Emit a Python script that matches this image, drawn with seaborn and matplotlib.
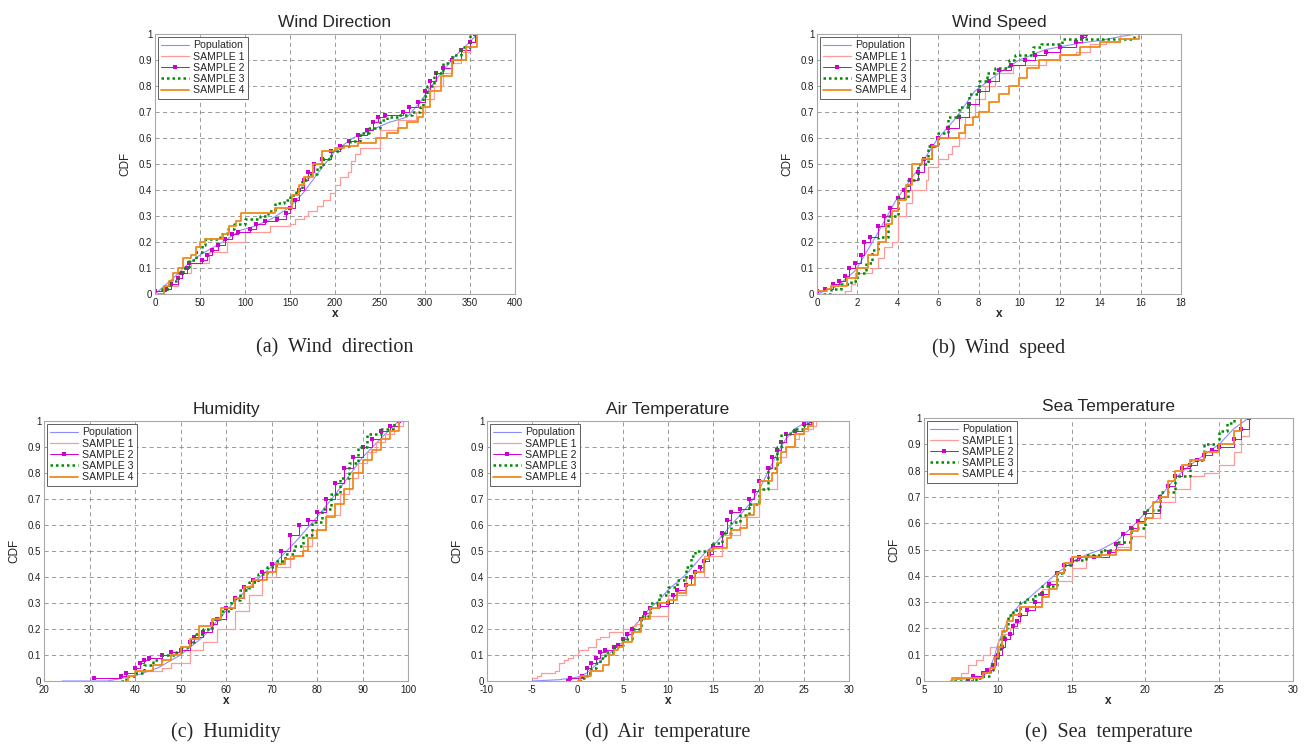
import matplotlib
matplotlib.use("Agg")
import matplotlib.pyplot as plt
import seaborn as sns
import pandas as pd

# ---- data: (x, cdf) knots ----
# (a) wind direction
wd_pop = [(0, 0), (10, 0.03), (20, 0.06), (35, 0.11), (50, 0.15), (75, 0.20), (95, 0.245), (110, 0.26),
          (130, 0.29), (150, 0.335), (165, 0.39), (180, 0.46), (200, 0.55), (220, 0.60), (240, 0.63),
          (260, 0.66), (280, 0.68), (295, 0.74), (305, 0.79), (320, 0.86), (335, 0.92), (350, 0.97), (358, 1.0)]
wd_s1 = [(0, 0), (10, 0.03), (25, 0.08), (40, 0.12), (60, 0.16), (80, 0.2), (100, 0.24), (128, 0.26),
         (150, 0.27), (156, 0.29), (165, 0.30), (170, 0.32), (180, 0.34), (187, 0.36), (194, 0.39), (200, 0.42),
         (206, 0.45), (214, 0.47), (218, 0.51), (222, 0.54), (228, 0.56), (250, 0.63), (270, 0.67), (290, 0.70),
         (300, 0.75), (310, 0.80), (320, 0.85), (330, 0.89), (340, 0.93), (350, 0.97), (357, 1.0)]
wd_s2 = [(0, 0.01), (12, 0.02), (18, 0.04), (25, 0.06), (30, 0.08), (35, 0.10), (38, 0.12), (52, 0.13),
         (58, 0.15), (63, 0.17), (70, 0.19), (78, 0.21), (85, 0.23), (92, 0.24), (105, 0.25), (112, 0.27),
         (122, 0.28), (135, 0.29), (145, 0.31), (150, 0.33), (155, 0.36), (160, 0.40), (165, 0.44), (170, 0.47),
         (177, 0.50), (185, 0.52), (195, 0.55), (205, 0.57), (215, 0.59), (225, 0.61), (235, 0.63), (242, 0.66),
         (248, 0.68), (255, 0.69), (275, 0.70), (282, 0.72), (292, 0.74), (300, 0.78), (305, 0.82), (312, 0.85),
         (320, 0.87), (330, 0.90), (340, 0.94), (350, 0.97), (356, 1.0)]
wd_s3 = [(5, 0), (8, 0.02), (15, 0.05), (25, 0.08), (31, 0.10), (38, 0.13), (45, 0.16), (52, 0.19), (55, 0.21),
         (72, 0.23), (80, 0.25), (88, 0.27), (100, 0.29), (117, 0.30), (125, 0.32), (133, 0.35), (143, 0.36),
         (150, 0.38), (157, 0.40), (163, 0.44), (170, 0.46), (180, 0.49), (187, 0.52), (195, 0.55), (205, 0.57),
         (217, 0.59), (228, 0.62), (238, 0.64), (250, 0.67), (258, 0.68), (270, 0.69), (285, 0.70), (294, 0.72),
         (298, 0.76), (302, 0.80), (310, 0.85), (320, 0.89), (330, 0.92), (340, 0.95), (350, 1.0)]
wd_s4 = [(3, 0), (10, 0.03), (15, 0.05), (20, 0.08), (25, 0.10), (31, 0.14), (40, 0.15), (45, 0.18), (50, 0.20),
         (55, 0.21), (70, 0.21), (75, 0.23), (82, 0.26), (90, 0.28), (95, 0.31), (130, 0.31), (133, 0.33),
         (148, 0.33), (152, 0.38), (160, 0.42), (165, 0.45), (175, 0.50), (185, 0.55), (200, 0.56), (210, 0.57),
         (225, 0.58), (240, 0.58), (245, 0.60), (258, 0.62), (270, 0.64), (280, 0.66), (292, 0.68), (298, 0.72),
         (305, 0.78), (318, 0.84), (330, 0.90), (345, 0.95), (358, 1.0)]

# (b) wind speed
ws_pop = [(0, 0), (1, 0.03), (1.9, 0.09), (2.9, 0.22), (3.9, 0.36), (4.9, 0.47), (5.9, 0.59), (6.9, 0.68),
          (7.8, 0.78), (9.0, 0.85), (10, 0.90), (11.3, 0.94), (13, 0.965), (14, 0.975), (15, 0.99), (15.8, 1.0)]
ws_s1 = [(0, 0), (1.4, 0.01), (1.7, 0.04), (1.9, 0.08), (2.7, 0.10), (3.0, 0.14), (3.3, 0.18), (3.7, 0.20),
         (4.0, 0.30), (4.4, 0.35), (4.7, 0.40), (5.4, 0.44), (5.5, 0.49), (6.0, 0.52), (6.5, 0.54), (6.7, 0.57),
         (7.0, 0.60), (7.3, 0.68), (7.8, 0.75), (8.3, 0.80), (8.8, 0.85), (9.7, 0.88), (11.3, 0.90), (12.0, 0.92),
         (12.8, 0.93), (13.5, 0.96), (14.3, 0.97), (15.0, 1.0)]
ws_s2 = [(0, 0.01), (0.4, 0.02), (0.8, 0.04), (1.1, 0.05), (1.4, 0.07), (1.6, 0.10), (1.9, 0.12), (2.2, 0.15),
         (2.3, 0.20), (2.6, 0.22), (3.0, 0.26), (3.3, 0.30), (3.6, 0.33), (4.0, 0.37), (4.3, 0.40), (4.6, 0.44),
         (5.0, 0.47), (5.3, 0.52), (5.7, 0.57), (6.0, 0.60), (6.5, 0.64), (7.0, 0.68), (7.5, 0.73), (8.0, 0.78),
         (8.5, 0.82), (9.0, 0.86), (9.6, 0.88), (10.3, 0.90), (10.8, 0.92), (11.3, 0.93), (12.0, 0.95), (12.8, 0.97),
         (13.1, 0.99), (13.3, 1.0)]
ws_s3 = [(0.3, 0), (0.7, 0.02), (1.2, 0.04), (1.7, 0.05), (2.0, 0.08), (2.4, 0.12), (2.7, 0.17), (3.0, 0.22),
         (3.5, 0.30), (4.0, 0.37), (4.5, 0.44), (5.0, 0.50), (5.5, 0.57), (6.0, 0.62), (6.5, 0.68), (7.0, 0.72),
         (7.5, 0.77), (8.0, 0.82), (8.4, 0.85), (8.8, 0.87), (9.5, 0.90), (9.8, 0.92), (10.5, 0.92), (10.7, 0.95),
         (11.1, 0.96), (12.1, 0.98), (15.0, 0.98), (15.7, 1.0)]
ws_s4 = [(0, 0.01), (0.5, 0.02), (0.7, 0.03), (1.2, 0.03), (1.5, 0.06), (2.0, 0.10), (2.5, 0.15), (3.0, 0.20),
         (3.4, 0.27), (3.7, 0.32), (4.0, 0.36), (4.4, 0.42), (4.7, 0.50), (5.2, 0.52), (5.7, 0.57), (6.0, 0.60),
         (6.8, 0.60), (7.0, 0.62), (7.3, 0.65), (7.7, 0.68), (8.0, 0.70), (8.5, 0.74), (9.0, 0.77), (9.5, 0.80),
         (10.0, 0.83), (10.4, 0.87), (11.0, 0.90), (12.0, 0.92), (13.0, 0.95), (14.0, 0.97), (15.0, 0.98), (15.9, 1.0)]

# (c) humidity
hu_pop = [(24, 0), (34, 0.0), (37, 0.01), (40, 0.02), (45, 0.05), (50, 0.10), (55, 0.17), (60, 0.27), (65, 0.36),
          (70, 0.44), (75, 0.53), (80, 0.63), (85, 0.74), (90, 0.86), (95, 0.95), (98, 1.0)]
hu_s1 = [(34, 0.01), (37, 0.02), (40, 0.04), (46, 0.05), (48, 0.07), (52, 0.12), (55, 0.15), (58, 0.20),
         (62, 0.27), (65, 0.33), (68, 0.40), (71, 0.44), (74, 0.48), (77, 0.52), (79, 0.58), (82, 0.64),
         (85, 0.72), (87, 0.78), (89, 0.84), (91, 0.88), (93, 0.92), (95, 0.95), (97, 0.98), (99, 1.0)]
hu_s2 = [(31, 0.01), (37, 0.02), (38, 0.03), (40, 0.05), (41, 0.07), (42, 0.08), (43, 0.09), (46, 0.10),
         (48, 0.11), (50, 0.12), (52, 0.15), (53, 0.17), (55, 0.19), (57, 0.22), (58, 0.24), (60, 0.28),
         (62, 0.32), (64, 0.36), (66, 0.39), (68, 0.42), (70, 0.45), (72, 0.50), (74, 0.56), (76, 0.60),
         (78, 0.62), (80, 0.65), (82, 0.70), (84, 0.76), (86, 0.82), (88, 0.86), (90, 0.90), (92, 0.93),
         (94, 0.96), (96, 0.98), (98, 1.0)]
hu_s3 = [(37, 0.0), (38, 0.02), (40, 0.03), (42, 0.06), (44, 0.08), (46, 0.10), (49, 0.11), (50, 0.13),
         (52, 0.15), (53, 0.18), (55, 0.20), (57, 0.24), (59, 0.27), (61, 0.31), (63, 0.35), (65, 0.38),
         (67, 0.41), (69, 0.44), (71, 0.46), (73, 0.49), (75, 0.52), (77, 0.56), (79, 0.61), (81, 0.66),
         (83, 0.72), (85, 0.78), (87, 0.84), (89, 0.90), (91, 0.95), (94, 0.97), (97, 1.0)]
hu_s4 = [(38, 0.0), (38.5, 0.02), (40, 0.04), (44, 0.06), (46, 0.08), (48, 0.10), (50, 0.13), (52, 0.16),
         (54, 0.21), (56, 0.21), (57, 0.24), (59, 0.28), (62, 0.32), (64, 0.36), (66, 0.39), (69, 0.42),
         (71, 0.45), (73, 0.47), (75, 0.48), (77, 0.50), (78, 0.55), (80, 0.58), (82, 0.63), (84, 0.68),
         (86, 0.74), (88, 0.80), (90, 0.85), (92, 0.89), (94, 0.93), (96, 0.96), (98, 1.0)]

# (d) air temperature
at_pop = [(-5, 0), (-2, 0.005), (0, 0.015), (1, 0.03), (2, 0.06), (3, 0.09), (4, 0.12), (5, 0.15), (6, 0.20),
          (7, 0.24), (8, 0.28), (9, 0.31), (10, 0.35), (11, 0.38), (12, 0.41), (13, 0.45), (14, 0.49), (15, 0.52),
          (16, 0.56), (17, 0.60), (18, 0.64), (19, 0.68), (20, 0.73), (21, 0.80), (22, 0.87), (23, 0.93),
          (24, 0.97), (25, 0.99), (26, 1.0)]
at_s1 = [(-5, 0.01), (-4.5, 0.02), (-4, 0.03), (-2.5, 0.04), (-2, 0.07), (-1.5, 0.08), (-1, 0.09), (-0.5, 0.10),
         (0, 0.11), (0.2, 0.12), (1.2, 0.13), (2, 0.16), (2.5, 0.17), (3.5, 0.19), (5, 0.20), (6, 0.21),
         (6.5, 0.22), (7, 0.24), (7.5, 0.25), (10, 0.33), (12, 0.40), (14, 0.48), (16, 0.56), (18, 0.63),
         (20, 0.74), (22, 0.86), (23, 0.90), (24, 0.93), (24.5, 0.95), (25, 0.96), (25.5, 0.97), (26, 0.98),
         (26.3, 1.0)]
at_s2 = [(-1, 0.0), (-0.8, 0.01), (0.5, 0.02), (1, 0.05), (1.5, 0.07), (2, 0.09), (2.5, 0.11), (3, 0.12),
         (4, 0.13), (4.5, 0.14), (5, 0.16), (5.5, 0.18), (6, 0.20), (7, 0.24), (7.5, 0.26), (8, 0.28), (9, 0.29),
         (10, 0.30), (10.5, 0.33), (11, 0.35), (12, 0.37), (12.5, 0.40), (13, 0.42), (13.5, 0.44), (14, 0.46),
         (14.5, 0.49), (15, 0.52), (16, 0.57), (16.5, 0.62), (17, 0.65), (18, 0.66), (19, 0.70), (19.5, 0.73),
         (20, 0.77), (21, 0.82), (21.5, 0.86), (22, 0.89), (22.5, 0.92), (23, 0.95), (24, 0.96), (25, 0.99),
         (25.8, 1.0)]
at_s3 = [(0.3, 0.0), (0.5, 0.01), (1, 0.03), (1.5, 0.05), (2, 0.07), (2.5, 0.09), (3, 0.11), (4, 0.13),
         (4.5, 0.14), (5, 0.16), (6, 0.20), (7, 0.25), (8, 0.30), (9, 0.33), (10, 0.36), (11, 0.39), (12, 0.44),
         (12.5, 0.48), (13, 0.50), (14, 0.50), (14.5, 0.51), (15, 0.53), (16, 0.57), (17, 0.61), (18, 0.64),
         (19, 0.68), (20, 0.74), (21, 0.82), (22, 0.90), (22.5, 0.95), (23.5, 0.96), (24, 0.97), (25, 0.99),
         (25.5, 1.0)]
at_s4 = [(0, 0.0), (0.3, 0.02), (1.5, 0.04), (2.8, 0.06), (3.5, 0.10), (4, 0.12), (4.5, 0.13), (5, 0.15),
         (6, 0.19), (7, 0.24), (8, 0.28), (9, 0.30), (10, 0.31), (11, 0.34), (12, 0.37), (13, 0.42), (14, 0.47),
         (14.5, 0.50), (15, 0.51), (16, 0.51), (16.5, 0.55), (17, 0.58), (18, 0.59), (18.7, 0.64), (19.5, 0.68),
         (20.2, 0.77), (21, 0.77), (21.5, 0.80), (22, 0.84), (22.5, 0.88), (23, 0.90), (24, 0.95), (25, 0.97),
         (25.5, 0.98), (26, 1.0)]

# (e) sea temperature
st_pop = [(6.8, 0), (7, 0.005), (8.5, 0.01), (9, 0.02), (9.5, 0.05), (9.8, 0.10), (10, 0.14), (10.3, 0.18),
          (10.6, 0.22), (11, 0.26), (11.5, 0.29), (12, 0.31), (13, 0.36), (14, 0.41), (15, 0.45), (16, 0.48),
          (17, 0.50), (18, 0.53), (19, 0.58), (20, 0.64), (21, 0.70), (22, 0.77), (23, 0.82), (24, 0.86),
          (25, 0.90), (26, 0.96), (27, 1.0)]
st_s1 = [(6.7, 0.0), (7, 0.01), (7.5, 0.03), (8, 0.06), (8.5, 0.08), (9, 0.10), (9.5, 0.13), (10, 0.16),
         (10.3, 0.18), (10.8, 0.20), (11, 0.22), (11.5, 0.25), (12, 0.28), (13, 0.35), (13.5, 0.38), (14.7, 0.38),
         (15, 0.43), (16, 0.48), (17, 0.50), (18, 0.51), (19, 0.55), (20, 0.62), (21, 0.68), (22, 0.73),
         (23, 0.78), (24, 0.79), (25, 0.82), (26, 0.87), (26.5, 0.93), (27, 1.0)]
st_s2 = [(8, 0.0), (8.3, 0.02), (9, 0.03), (9.3, 0.04), (9.7, 0.06), (9.9, 0.09), (10, 0.10), (10.3, 0.13),
         (10.5, 0.16), (10.8, 0.18), (11, 0.21), (11.3, 0.23), (11.5, 0.25), (12, 0.27), (12.5, 0.30), (13, 0.33),
         (13.5, 0.37), (14, 0.41), (14.5, 0.44), (15, 0.46), (15.5, 0.47), (16.5, 0.47), (17.5, 0.49), (18, 0.52),
         (18.5, 0.56), (19, 0.58), (19.5, 0.61), (20, 0.64), (21, 0.70), (21.5, 0.74), (22, 0.78), (22.5, 0.81),
         (23, 0.82), (23.5, 0.84), (24, 0.86), (24.5, 0.88), (25, 0.89), (26, 0.92), (26.5, 0.96), (27, 1.0)]
st_s3 = [(7, 0.0), (8.5, 0.01), (9, 0.02), (9.5, 0.04), (9.7, 0.08), (10, 0.12), (10.2, 0.16), (10.4, 0.20),
         (10.7, 0.25), (11, 0.27), (11.5, 0.30), (12, 0.31), (12.5, 0.33), (13, 0.36), (14, 0.41), (14.5, 0.44),
         (15, 0.46), (16, 0.48), (17, 0.50), (18, 0.53), (19, 0.58), (20, 0.65), (21, 0.72), (22, 0.78),
         (23, 0.84), (24, 0.90), (25, 0.95), (25.5, 0.98), (26, 1.0)]
st_s4 = [(6.8, 0.0), (6.9, 0.01), (8.5, 0.01), (9, 0.03), (9.5, 0.05), (9.8, 0.09), (10, 0.13), (10.3, 0.19),
         (10.6, 0.23), (11, 0.25), (11.5, 0.28), (12.5, 0.28), (13, 0.32), (13.5, 0.35), (14, 0.41), (14.5, 0.45),
         (15, 0.47), (16, 0.47), (17, 0.48), (18, 0.50), (19, 0.57), (19.5, 0.60), (20, 0.62), (20.5, 0.68),
         (21, 0.70), (21.5, 0.76), (22, 0.80), (22.5, 0.82), (23, 0.84), (24, 0.87), (25, 0.90), (26, 0.95),
         (26.5, 1.0)]

labels = ["Population", "SAMPLE 1", "SAMPLE 2", "SAMPLE 3", "SAMPLE 4"]
titles = ["Wind Direction", "Wind Speed", "Humidity", "Air Temperature", "Sea Temperature"]
captions = ["(a)  Wind  direction", "(b)  Wind  speed", "(c)  Humidity", "(d)  Air  temperature",
            "(e)  Sea  temperature"]
xticks = [list(range(0, 401, 50)), list(range(0, 19, 2)), list(range(20, 101, 10)),
          list(range(-10, 31, 5)), list(range(5, 31, 5))]
series = [[wd_pop, wd_s1, wd_s2, wd_s3, wd_s4],
          [ws_pop, ws_s1, ws_s2, ws_s3, ws_s4],
          [hu_pop, hu_s1, hu_s2, hu_s3, hu_s4],
          [at_pop, at_s1, at_s2, at_s3, at_s4],
          [st_pop, st_s1, st_s2, st_s3, st_s4]]

# line styles per series
styles = [dict(color="#8c8cff", lw=0.8),
          dict(color="#ff9a9a", lw=0.9, drawstyle="steps-post"),
          dict(color="#d000d0", lw=0.7, drawstyle="steps-post", marker="s", markersize=2.6, markeredgewidth=0),
          dict(color="#008c00", lw=1.8, drawstyle="steps-post", linestyle=(0, (1, 1.2))),
          dict(color="#ef8a1c", lw=1.3, drawstyle="steps-post")]

# pixel boxes (left, top, right, bottom) of each axes
W, H = 1309, 745
boxes = [(155, 34, 515, 294), (817, 34, 1181, 294),
         (44, 421, 408, 681), (487, 421, 849, 681), (924, 418, 1293, 681)]
cap_y = [348, 348, 732, 732, 732]

sns.set_style("white")
plt.rcParams["font.family"] = ["Liberation Sans", "DejaVu Sans"]

fig = plt.figure(figsize=(W / 100, H / 100), dpi=100)

for i in range(5):
    l, t, r, b = boxes[i]
    ax = fig.add_axes([l / W, 1 - b / H, (r - l) / W, (b - t) / H])
    for k in range(5):
        df = pd.DataFrame(series[i][k], columns=["x", "cdf"])
        sns.lineplot(data=df, x="x", y="cdf", ax=ax, sort=False, estimator=None,
                     label=labels[k], **styles[k])
    ax.set_xlim(xticks[i][0], xticks[i][-1])
    ax.set_ylim(0, 1)
    ax.set_xticks(xticks[i])
    ax.set_xticklabels([str(v) for v in xticks[i]])
    yt = [j / 10 for j in range(11)]
    ax.set_yticks(yt)
    ax.set_yticklabels(["0"] + ["%.1f" % v for v in yt[1:-1]] + ["1"])
    ax.tick_params(labelsize=7, direction="in", length=2, colors="#202020")
    ax.tick_params(axis="x", pad=3)
    ax.tick_params(axis="y", pad=2)
    ax.grid(True, linestyle=(0, (5, 4)), color="#8a8a8a", lw=0.6)
    for s in ax.spines.values():
        s.set_color("#a8a8a8")
        s.set_linewidth(0.8)
    ax.set_xlabel("x", fontsize=8.5, fontweight="bold", labelpad=0)
    ax.set_ylabel("CDF", fontsize=8.5, labelpad=5)
    ax.set_title(titles[i], fontsize=12.5, pad=5)
    leg = ax.legend(loc="upper left", fontsize=7.6, frameon=True, fancybox=False, framealpha=1,
                    edgecolor="#606060", handlelength=2.6, handletextpad=0.4, labelspacing=0.12,
                    borderpad=0.3, borderaxespad=0.3)
    leg.get_frame().set_linewidth(0.7)
    fig.text((l + r) / 2 / W, 1 - cap_y[i] / H, captions[i], ha="center", va="center",
             fontsize=14.5, family=["Liberation Serif", "DejaVu Serif"])

fig.savefig("out.png", dpi=100, facecolor="white")
